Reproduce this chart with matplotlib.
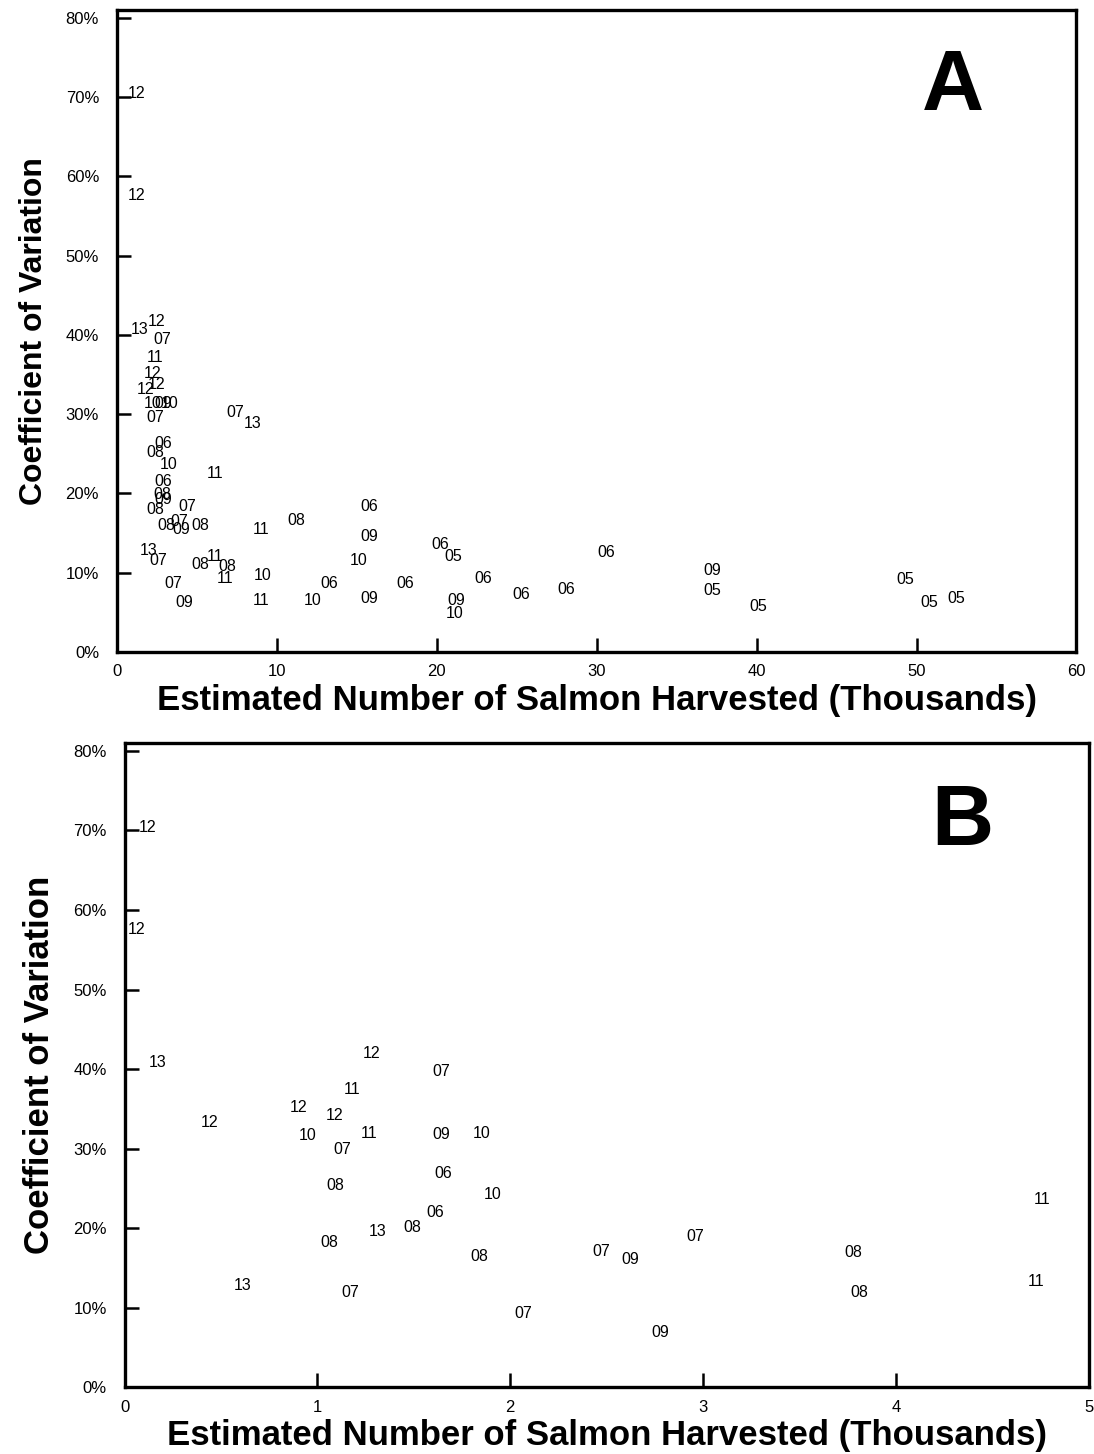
import numpy as np
import matplotlib
matplotlib.use("Agg")
import matplotlib.pyplot as plt
from matplotlib.ticker import PercentFormatter

plt.rcParams['font.family'] = ['Liberation Sans', 'DejaVu Sans']

# Panel A: all harvest sizes (thousands), CV in %
a_x = [1.2, 1.2, 1.4, 2.5, 2.8, 2.4, 2.2, 2.5, 1.8, 2.2, 2.9, 3.3,
       2.4, 7.4, 8.5, 2.9, 2.4, 3.25, 6.1, 2.9, 2.8, 2.9, 2.4, 4.4,
       3.1, 3.9, 4.0, 5.2, 2.0, 2.6, 6.1, 5.2, 6.9, 6.75, 3.5, 4.2,
       9.0, 9.1, 9.0, 11.2, 15.75, 15.75, 15.1, 13.25, 12.2, 15.8, 18.0,
       20.2, 21.0, 22.9, 21.2, 21.1, 25.3, 28.1, 30.6, 37.25, 37.25,
       40.1, 49.3, 50.8, 52.5]
a_cv = [70.5, 57.6, 40.7, 41.7, 39.4, 37.2, 35.1, 33.7, 33.1, 31.4, 31.4, 31.4,
        29.6, 30.2, 28.8, 26.3, 25.2, 23.7, 22.5, 21.5, 19.9, 19.2, 18.0, 18.3,
        15.9, 16.5, 15.5, 15.9, 12.8, 11.6, 12.1, 11.0, 10.8, 9.3, 8.6, 6.2,
        15.4, 9.6, 6.5, 16.6, 18.4, 14.6, 11.5, 8.7, 6.5, 6.8, 8.7,
        13.5, 12.1, 9.3, 6.5, 4.9, 7.2, 7.9, 12.5, 10.3, 7.7,
        5.7, 9.2, 6.3, 6.8]
a_year = ['12', '12', '13', '12', '07', '11', '12', '12', '12', '10', '09', '10',
          '07', '07', '13', '06', '08', '10', '11', '06', '08', '09', '08', '07',
          '08', '07', '09', '08', '13', '07', '11', '08', '08', '11', '07', '09',
          '11', '10', '11', '08', '06', '09', '10', '06', '10', '09', '06',
          '06', '05', '06', '09', '10', '06', '06', '06', '09', '05',
          '05', '05', '05', '05']

# Panel B: harvests under 5 thousand
b_x = [0.12, 0.06, 0.17, 0.44, 0.61, 0.90, 0.95, 1.09, 1.18, 1.28, 1.13,
       1.27, 1.09, 1.06, 1.31, 1.49, 1.17, 1.64, 1.64, 1.85, 1.65, 1.61,
       1.91, 1.84, 2.07, 2.47, 2.62, 2.96, 2.78, 3.78, 3.81, 4.76, 4.73]
b_cv = [70.4, 57.6, 40.8, 33.3, 12.8, 35.2, 31.6, 34.1, 37.4, 42.0, 29.9,
        31.9, 25.4, 18.2, 19.6, 20.1, 11.9, 39.7, 31.8, 31.9, 26.8, 22.0,
        24.2, 16.4, 9.2, 17.0, 16.1, 19.0, 6.9, 16.9, 11.9, 23.6, 13.3]
b_year = ['12', '12', '13', '12', '13', '12', '10', '12', '11', '12', '07',
          '11', '08', '08', '13', '08', '07', '07', '09', '10', '06', '06',
          '10', '08', '07', '07', '09', '07', '09', '08', '08', '11', '11']

fig = plt.figure(figsize=(10.94, 14.54), dpi=100)


def panel(rect, xs, cvs, years, xmax, letter, letter_pos, ylab_size):
    ax = fig.add_axes(rect)
    for x, c, t in zip(xs, cvs, years):
        ax.text(x, c, t, ha='center', va='center', fontsize=11.5)
    ax.set_xlim(0, xmax)
    ax.set_ylim(0, 81)
    ax.set_yticks(np.arange(0, 81, 10))
    ax.yaxis.set_major_formatter(PercentFormatter(decimals=0))
    ax.tick_params(direction='in', length=10, width=1.8, labelsize=12,
                   top=False, right=False)
    ax.tick_params(axis='y', pad=13)
    ax.tick_params(axis='x', pad=9)
    for s in ax.spines.values():
        s.set_linewidth(2.4)
    ax.set_ylabel('Coefficient of Variation', fontsize=ylab_size,
                  fontweight='bold', labelpad=12)
    ax.set_xlabel('Estimated Number of Salmon Harvested (Thousands)',
                  fontsize=25, fontweight='bold', labelpad=3)
    ax.text(*letter_pos, letter, transform=ax.transAxes, fontsize=62,
            fontweight='heavy', ha='center', va='center')
    return ax


panel([0.107, 0.5516, 0.877, 0.4416], a_x, a_cv, a_year, 60, 'A',
      (0.871, 0.878), 23)
panel([0.114, 0.046, 0.881, 0.443], b_x, b_cv, b_year, 5, 'B',
      (0.869, 0.876), 25)

fig.savefig('out.png', dpi=100)
